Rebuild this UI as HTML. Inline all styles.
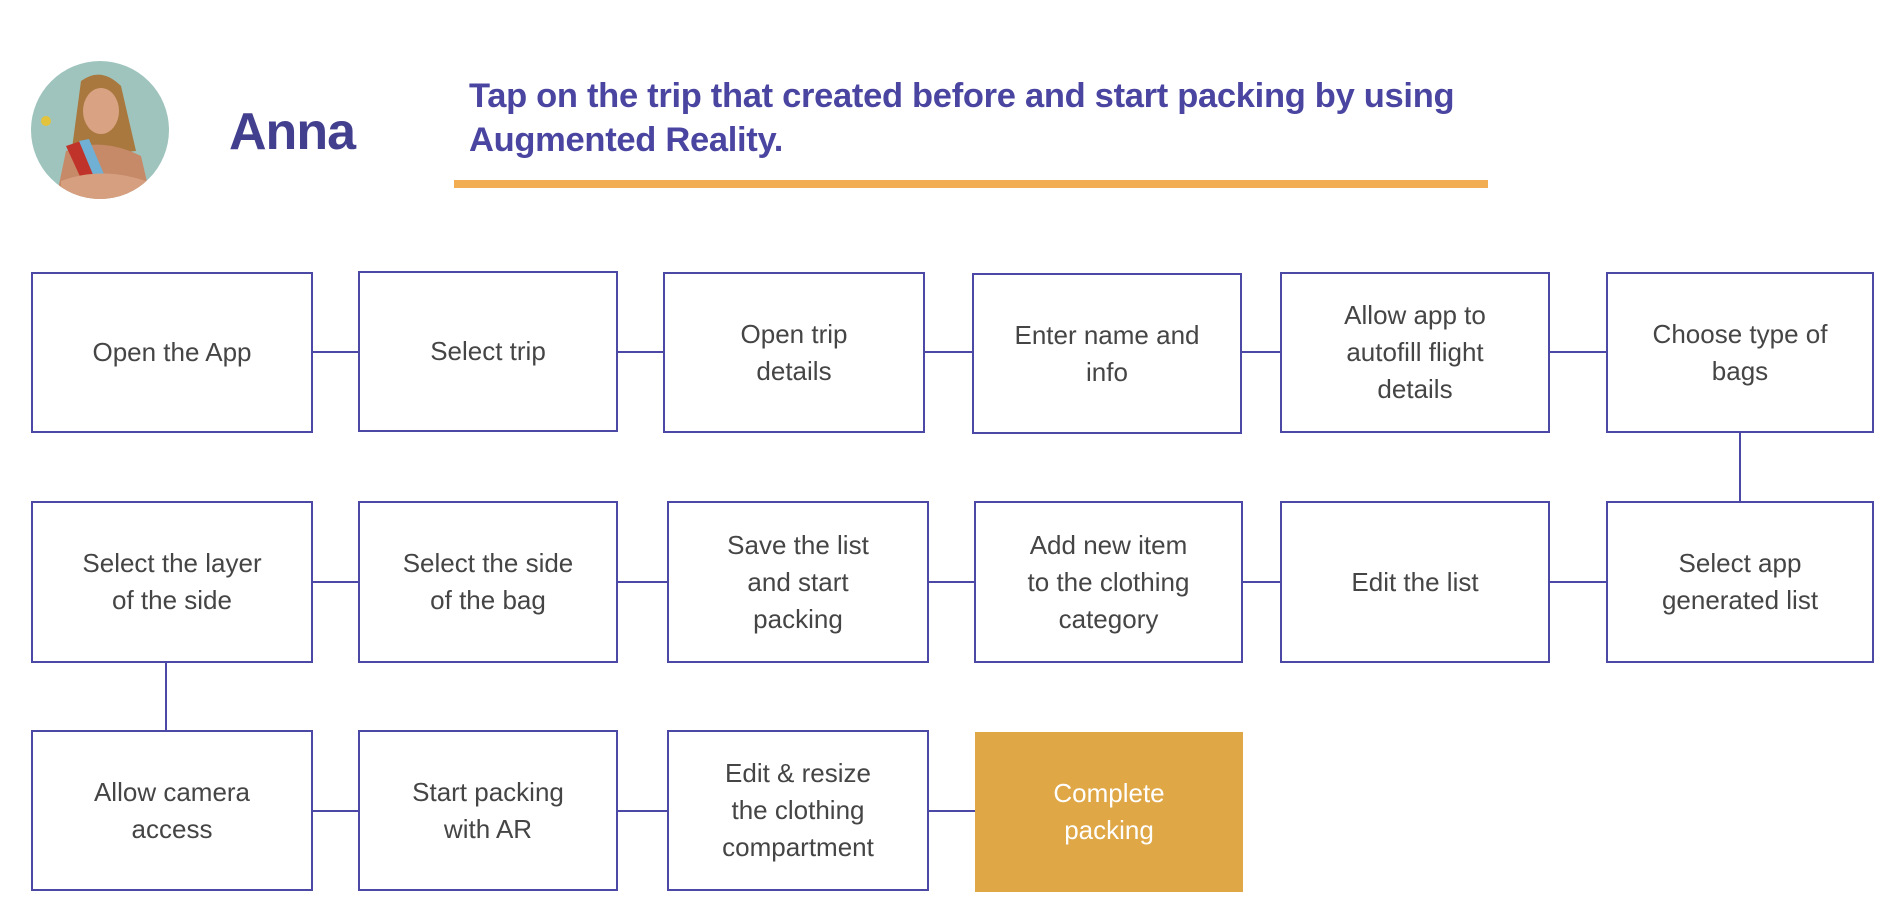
<!DOCTYPE html>
<html><head><meta charset="utf-8"><style>
body{margin:0;width:1894px;height:910px;background:#fff;position:relative;overflow:hidden;font-family:"Liberation Sans",sans-serif}
.b{position:absolute;box-sizing:border-box;border:2px solid #4b48a6;background:#fff;display:flex;align-items:center;justify-content:center;text-align:center;color:#454545;font-size:26px;line-height:37px;padding:0 10px}
.l{position:absolute;background:#4b48a6}
</style></head><body>
<svg style="position:absolute;left:31px;top:61px" width="138" height="138" viewBox="0 0 138 138">
<defs><clipPath id="c"><circle cx="69" cy="69" r="69"/></clipPath></defs>
<g clip-path="url(#c)">
<rect width="138" height="138" fill="#9fc4bd"/>
<path d="M50 20 Q70 5 90 25 L105 90 L40 95 Z" fill="#a9783f"/>
<ellipse cx="70" cy="50" rx="18" ry="23" fill="#d9a383"/>
<path d="M25 138 L35 90 Q70 75 110 95 L120 138 Z" fill="#c68a68"/>
<path d="M35 85 L50 80 L70 130 L58 135 Z" fill="#c0332b"/>
<path d="M48 80 L58 78 L78 125 L68 128 Z" fill="#6fb0d4"/>
<path d="M30 120 Q70 105 115 120 L115 138 L30 138 Z" fill="#d6a080"/>
<circle cx="15" cy="60" r="5" fill="#e3c33b"/>
</g></svg>
<div style="position:absolute;left:229px;top:102px;font-size:52px;font-weight:bold;color:#433f8f;letter-spacing:-1px">Anna</div>
<div style="position:absolute;left:469px;top:74px;font-size:34.5px;line-height:44px;font-weight:bold;color:#4a45a0;letter-spacing:-0.3px;white-space:nowrap">Tap on the trip that created before and start packing by using<br>Augmented Reality.</div>
<div style="position:absolute;left:454px;top:180px;width:1034px;height:8px;background:#f2ac52"></div>

<div class="l" style="left:313px;top:351px;width:1561px;height:2px"></div>
<div class="l" style="left:313px;top:581px;width:1561px;height:2px"></div>
<div class="l" style="left:313px;top:810px;width:662px;height:2px"></div>
<div class="l" style="left:1739px;top:432px;width:2px;height:70px"></div>
<div class="l" style="left:165px;top:662px;width:2px;height:70px"></div>

<div class="b" style="left:31px;top:272px;width:282px;height:161px">Open the App</div>
<div class="b" style="left:358px;top:271px;width:260px;height:161px">Select trip</div>
<div class="b" style="left:663px;top:272px;width:262px;height:161px">Open trip<br>details</div>
<div class="b" style="left:972px;top:273px;width:270px;height:161px">Enter name and<br>info</div>
<div class="b" style="left:1280px;top:272px;width:270px;height:161px">Allow app to<br>autofill flight<br>details</div>
<div class="b" style="left:1606px;top:272px;width:268px;height:161px">Choose type of<br>bags</div>

<div class="b" style="left:31px;top:501px;width:282px;height:162px">Select the layer<br>of the side</div>
<div class="b" style="left:358px;top:501px;width:260px;height:162px">Select the side<br>of the bag</div>
<div class="b" style="left:667px;top:501px;width:262px;height:162px">Save the list<br>and start<br>packing</div>
<div class="b" style="left:974px;top:501px;width:269px;height:162px">Add new item<br>to the clothing<br>category</div>
<div class="b" style="left:1280px;top:501px;width:270px;height:162px">Edit the list</div>
<div class="b" style="left:1606px;top:501px;width:268px;height:162px">Select app<br>generated list</div>

<div class="b" style="left:31px;top:730px;width:282px;height:161px">Allow camera<br>access</div>
<div class="b" style="left:358px;top:730px;width:260px;height:161px">Start packing<br>with AR</div>
<div class="b" style="left:667px;top:730px;width:262px;height:161px">Edit &amp; resize<br>the clothing<br>compartment</div>
<div class="b" style="left:975px;top:732px;width:268px;height:160px;background:#dfa745;border-color:#dfa745;color:#fff">Complete<br>packing</div>
</body></html>
